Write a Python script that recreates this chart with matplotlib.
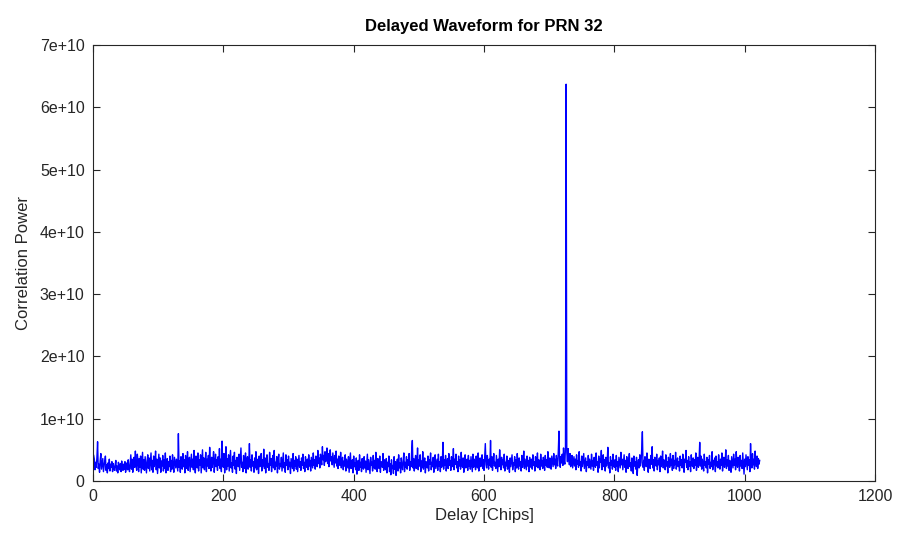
import matplotlib
matplotlib.use("Agg")
import matplotlib.pyplot as plt
import numpy as np
from matplotlib.ticker import FuncFormatter

# correlation power per delay chip, in units of 1e8 (32 chips per row)
power_rows = [
    [41, 35, 18, 30, 22, 38, 63, 20, 27, 14, 33, 44, 19, 28, 36, 15, 24, 32, 40, 17, 26, 13, 29, 20, 35, 16, 27, 22, 31, 15, 28, 21],
    [17, 26, 33, 16, 24, 13, 30, 21, 18, 28, 15, 32, 22, 17, 27, 19, 31, 14, 25, 29, 18, 34, 21, 15, 28, 42, 19, 35, 14, 30, 38, 22],
    [48, 25, 17, 43, 31, 15, 36, 22, 40, 13, 29, 46, 19, 34, 17, 39, 26, 13, 32, 42, 20, 37, 16, 30, 45, 18, 33, 14, 40, 23, 31, 48],
    [18, 35, 12, 28, 43, 21, 37, 14, 32, 24, 41, 16, 34, 20, 45, 13, 27, 36, 17, 31, 23, 40, 15, 33, 19, 42, 25, 14, 38, 29, 21, 35],
    [26, 16, 76, 22, 32, 14, 39, 28, 19, 44, 23, 34, 13, 41, 26, 20, 47, 17, 33, 38, 15, 30, 43, 22, 35, 18, 49, 24, 13, 40, 29, 21],
    [45, 16, 34, 25, 42, 13, 31, 50, 21, 37, 18, 29, 46, 15, 35, 24, 41, 20, 54, 28, 16, 38, 22, 33, 47, 14, 30, 43, 23, 34, 17, 39],
    [25, 52, 20, 35, 15, 64, 28, 22, 44, 13, 31, 55, 18, 36, 24, 42, 16, 34, 49, 21, 29, 14, 40, 25, 46, 19, 33, 12, 38, 28, 23, 43],
    [17, 35, 53, 22, 30, 15, 41, 27, 20, 45, 13, 32, 39, 19, 28, 60, 22, 34, 16, 42, 24, 31, 14, 37, 21, 47, 18, 29, 35, 12, 40, 23],
    [30, 44, 16, 34, 24, 51, 20, 37, 13, 31, 42, 22, 28, 17, 46, 25, 36, 15, 33, 41, 21, 49, 18, 30, 24, 39, 13, 34, 43, 19, 28, 23],
    [38, 16, 31, 45, 21, 29, 14, 42, 25, 34, 18, 40, 23, 30, 12, 36, 28, 20, 44, 16, 33, 24, 39, 19, 35, 15, 29, 41, 22, 31, 17, 37],
    [25, 43, 20, 30, 15, 39, 28, 22, 35, 18, 42, 24, 33, 16, 38, 29, 21, 45, 25, 34, 19, 40, 30, 23, 49, 28, 37, 21, 43, 32, 26, 55],
    [34, 41, 25, 47, 31, 38, 53, 28, 44, 23, 35, 50, 32, 39, 26, 45, 33, 22, 41, 29, 48, 24, 35, 20, 40, 30, 25, 46, 21, 34, 38, 18],
    [32, 24, 42, 16, 35, 28, 21, 39, 14, 30, 45, 20, 26, 34, 13, 40, 23, 29, 18, 37, 11, 27, 33, 17, 42, 22, 30, 15, 36, 24, 19, 39],
    [21, 32, 14, 28, 43, 18, 34, 23, 12, 38, 25, 30, 16, 41, 21, 33, 19, 46, 24, 15, 36, 29, 20, 40, 14, 31, 25, 22, 44, 17, 34, 27],
    [18, 36, 13, 30, 23, 40, 15, 28, 10, 34, 20, 25, 12, 39, 19, 31, 9, 26, 35, 16, 42, 21, 29, 13, 37, 24, 18, 33, 45, 15, 30, 22],
    [39, 19, 34, 25, 44, 17, 31, 23, 49, 65, 21, 36, 16, 30, 41, 20, 28, 53, 18, 34, 24, 42, 15, 32, 22, 47, 19, 29, 37, 13, 31, 25],
    [21, 40, 16, 34, 27, 45, 18, 30, 23, 38, 14, 33, 42, 20, 27, 35, 17, 43, 24, 31, 15, 39, 22, 29, 62, 19, 34, 25, 41, 16, 30, 36],
    [20, 44, 25, 33, 17, 39, 23, 30, 52, 18, 35, 27, 43, 21, 31, 15, 40, 24, 34, 19, 46, 26, 22, 37, 14, 31, 42, 21, 29, 35, 17, 41],
    [24, 33, 19, 39, 27, 15, 43, 22, 35, 30, 18, 40, 25, 21, 45, 16, 31, 37, 23, 29, 42, 20, 34, 17, 38, 60, 26, 21, 41, 31, 19, 35],
    [25, 65, 22, 39, 17, 33, 44, 24, 30, 20, 41, 27, 15, 35, 23, 50, 31, 18, 38, 26, 34, 21, 43, 16, 30, 24, 40, 19, 33, 27, 14, 37],
    [23, 32, 42, 18, 29, 25, 39, 15, 34, 21, 44, 27, 19, 37, 24, 31, 16, 41, 22, 30, 48, 20, 35, 26, 18, 40, 24, 33, 15, 38, 29, 22],
    [35, 19, 42, 25, 31, 16, 39, 23, 30, 45, 21, 34, 27, 18, 43, 24, 33, 20, 38, 29, 17, 41, 25, 34, 22, 47, 30, 21, 37, 27, 19, 40],
    [31, 23, 44, 26, 35, 20, 41, 28, 24, 48, 80, 32, 22, 39, 29, 43, 25, 53, 33, 27, 55, 637, 46, 31, 52, 37, 26, 44, 23, 34, 41, 21],
    [30, 39, 24, 35, 18, 42, 27, 33, 22, 47, 25, 31, 16, 40, 23, 34, 44, 20, 29, 37, 15, 31, 25, 41, 21, 35, 27, 19, 43, 24, 33, 17],
    [38, 29, 22, 45, 25, 31, 14, 40, 21, 35, 30, 49, 18, 28, 42, 23, 34, 16, 38, 24, 31, 54, 21, 29, 13, 39, 25, 33, 19, 43, 27, 22],
    [34, 17, 41, 24, 31, 15, 38, 29, 21, 46, 26, 35, 18, 30, 42, 22, 33, 14, 39, 25, 20, 34, 44, 23, 29, 16, 37, 27, 12, 40, 24, 31],
    [19, 38, 9, 26, 34, 21, 42, 24, 30, 52, 79, 22, 33, 17, 39, 28, 23, 45, 25, 14, 35, 31, 20, 41, 27, 55, 21, 34, 16, 38, 29, 24],
    [43, 18, 33, 26, 37, 15, 40, 23, 30, 48, 21, 34, 27, 18, 42, 24, 31, 13, 38, 28, 22, 44, 25, 35, 17, 41, 20, 33, 26, 46, 19, 30],
    [37, 23, 31, 16, 40, 25, 34, 21, 43, 27, 14, 35, 30, 49, 22, 33, 18, 39, 24, 31, 15, 42, 27, 23, 37, 20, 34, 25, 45, 17, 30, 38],
    [22, 33, 62, 24, 40, 19, 35, 28, 16, 43, 25, 31, 21, 38, 13, 34, 27, 41, 20, 30, 23, 47, 18, 33, 26, 37, 15, 40, 24, 31, 21, 42],
    [27, 19, 35, 25, 45, 16, 31, 38, 22, 29, 50, 20, 34, 24, 41, 17, 33, 26, 14, 39, 30, 21, 43, 25, 35, 18, 47, 28, 22, 38, 31, 16],
    [41, 24, 33, 20, 45, 27, 11, 35, 23, 42, 30, 18, 39, 25, 34, 15, 60, 29, 21, 44, 26, 35, 19, 48, 31, 23, 40, 20, 36, 27, 33],
]

x_ticks = [0, 200, 400, 600, 800, 1000, 1200]
y_ticks = [0, 1e10, 2e10, 3e10, 4e10, 5e10, 6e10, 7e10]

power = np.concatenate([np.array(r, dtype=float) for r in power_rows]) * 1e8
delay = np.arange(1, len(power) + 1)

plt.rcParams['font.family'] = ['Liberation Sans', 'DejaVu Sans']

fig = plt.figure(figsize=(8.97, 5.4), dpi=100)
ax = fig.add_axes([0.1037, 0.1093, 0.8718, 0.8074])

ax.plot(delay, power, color='#0000ff', linewidth=1.0)

ax.set_xlim(0, 1200)
ax.set_ylim(0, 7e10)
ax.set_xticks(x_ticks)
ax.set_yticks(y_ticks)


def sci_label(v, pos):
    if v == 0:
        return "0"
    return f"{v / 1e10:.0f}e+10"


ax.yaxis.set_major_formatter(FuncFormatter(sci_label))
ax.tick_params(direction='in', top=True, right=True, length=5, width=0.8,
               colors='#262626', labelsize=11.5, pad=6)
for s in ax.spines.values():
    s.set_color('#262626')
    s.set_linewidth(0.8)

ax.set_title('Delayed Waveform for PRN 32', fontsize=12, fontweight='bold', pad=10)
ax.set_xlabel('Delay [Chips]', fontsize=12, color='#262626', labelpad=3)
ax.set_ylabel('Correlation Power', fontsize=12, color='#262626', labelpad=6)

fig.savefig('out.png', dpi=100)
